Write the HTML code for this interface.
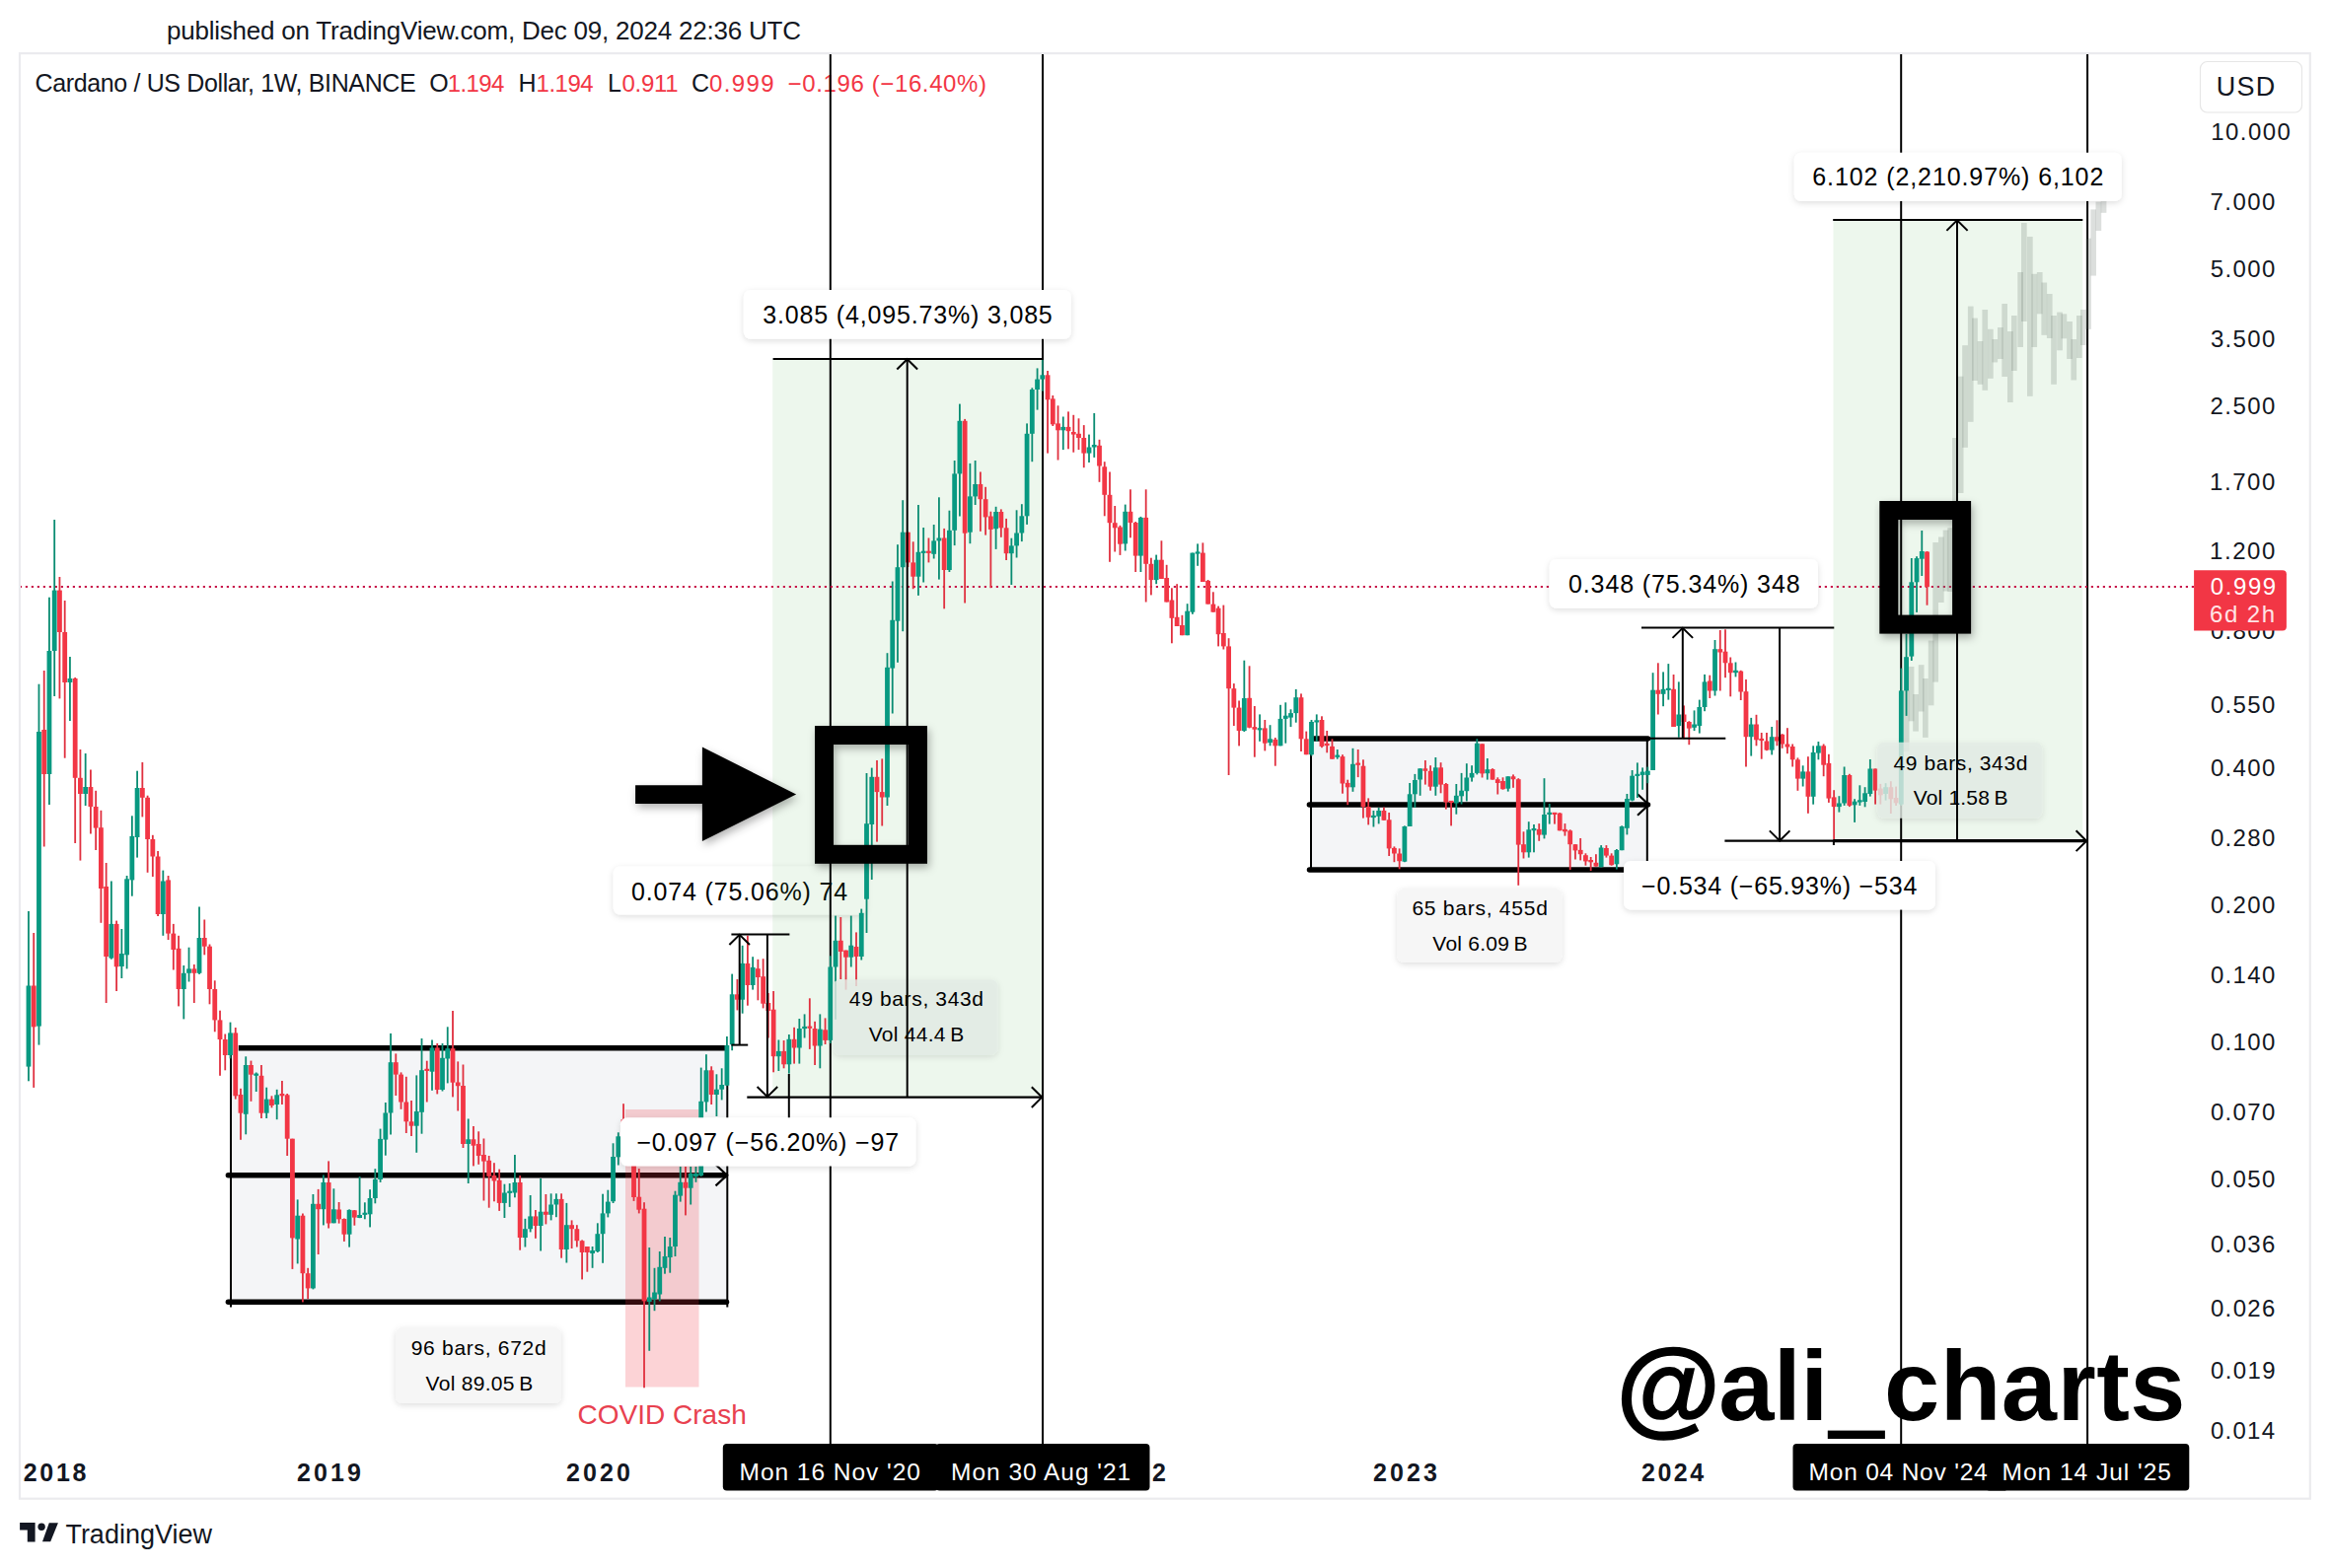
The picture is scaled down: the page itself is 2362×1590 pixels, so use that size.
<!DOCTYPE html>
<html><head><meta charset="utf-8"><title>ADA chart</title><style>
html,body{margin:0;padding:0;background:#ffffff;}
body{width:2362px;height:1590px;overflow:hidden;}
svg{display:block;}
text{font-family:"Liberation Sans",sans-serif;white-space:pre;}
</style></head><body>
<svg width="2362" height="1590" viewBox="0 0 2362 1590">
<defs>
<filter id="sh" x="-20%" y="-30%" width="140%" height="170%"><feDropShadow dx="0" dy="2" stdDeviation="3" flood-color="#000" flood-opacity="0.13"/></filter>
<filter id="shb" x="-20%" y="-20%" width="150%" height="150%"><feDropShadow dx="2" dy="4" stdDeviation="4" flood-color="#000" flood-opacity="0.30"/></filter>
<clipPath id="pane"><rect x="21" y="55" width="2320" height="1464"/></clipPath>
</defs>
<rect x="0" y="0" width="2362" height="1590" fill="#ffffff"/>
<text x="169.0" y="40.2" font-size="26" letter-spacing="-0.22" fill="#131722">published on TradingView.com, Dec 09, 2024 22:36 UTC</text>
<rect x="20.0" y="54.1" width="2321.8" height="1465.6" fill="none" stroke="#ebebee" stroke-width="2.2"/>
<g clip-path="url(#pane)">
<text x="35.5" y="93.4" font-size="25" letter-spacing="-0.36" fill="#131722">Cardano / US Dollar, 1W, BINANCE</text>
<text x="435.3" y="93.4" font-size="25" fill="#131722">O</text>
<text x="453.7" y="93.4" font-size="24" letter-spacing="-0.60" fill="#F23645">1.194</text>
<text x="525.6" y="93.4" font-size="25" fill="#131722">H</text>
<text x="543.5" y="93.4" font-size="24" letter-spacing="-0.47" fill="#F23645">1.194</text>
<text x="616.0" y="93.4" font-size="25" fill="#131722">L</text>
<text x="630.5" y="93.4" font-size="24" letter-spacing="-0.30" fill="#F23645">0.911</text>
<text x="701.1" y="93.4" font-size="25" fill="#131722">C</text>
<text x="719.1" y="93.4" font-size="24" letter-spacing="1.35" fill="#F23645">0.999</text>
<text x="798.6" y="93.4" font-size="24" letter-spacing="0.62" fill="#F23645">−0.196 (−16.40%)</text>
<rect x="234" y="1062.7" width="503.3" height="257.5" fill="#f4f5f7"/>
<rect x="1329" y="749" width="341" height="133" fill="#f4f5f7"/>
<rect x="621.7" y="878.4" width="256.3" height="49.2" rx="7" fill="#ffffff" filter="url(#sh)"/>
<text x="640.0" y="912.5" font-size="25" letter-spacing="0.84" fill="#000000">0.074 (75.06%) 74</text>
<rect x="783.2" y="363.9" width="273.8" height="748.7" fill="rgba(76,175,80,0.10)"/>
<rect x="1858.5" y="223.1" width="252.8" height="629.6" fill="rgba(76,175,80,0.10)"/>
<line x1="234" y1="1062.7" x2="234" y2="1325.4" stroke="#000" stroke-width="2" stroke-linecap="butt"/>
<line x1="737.3" y1="1062.7" x2="737.3" y2="1325.4" stroke="#000" stroke-width="2" stroke-linecap="butt"/>
<line x1="241.8" y1="1062.7" x2="735.5" y2="1062.7" stroke="#000" stroke-width="5.5" stroke-linecap="butt"/>
<line x1="231.4" y1="1191.7" x2="735.5" y2="1191.7" stroke="#000" stroke-width="5.5" stroke-linecap="round"/>
<polyline points="725.5,1181.0 737.0,1191.7 725.5,1202.4" fill="none" stroke="#000" stroke-width="2.2" stroke-linejoin="miter"/>
<line x1="231.4" y1="1320.2" x2="736.5" y2="1320.2" stroke="#000" stroke-width="5.5" stroke-linecap="round"/>
<line x1="1329" y1="749" x2="1329" y2="882.7" stroke="#000" stroke-width="2" stroke-linecap="butt"/>
<line x1="1669.8" y1="749" x2="1669.8" y2="882" stroke="#000" stroke-width="2" stroke-linecap="butt"/>
<line x1="1331.9" y1="749" x2="1670.5" y2="749" stroke="#000" stroke-width="5.5" stroke-linecap="round"/>
<line x1="1327.4" y1="816" x2="1670.5" y2="816" stroke="#000" stroke-width="5.5" stroke-linecap="round"/>
<polyline points="1660,805.3 1671.5,816 1660,826.7" fill="none" stroke="#000" stroke-width="2.2" stroke-linejoin="miter"/>
<line x1="1327.5" y1="881.9" x2="1670" y2="881.9" stroke="#000" stroke-width="5.5" stroke-linecap="round"/>
<line x1="841.8" y1="54" x2="841.8" y2="1464" stroke="#000" stroke-width="2" stroke-linecap="butt"/>
<line x1="1057.0" y1="54" x2="1057.0" y2="1464" stroke="#000" stroke-width="2" stroke-linecap="butt"/>
<line x1="1927.2" y1="54" x2="1927.2" y2="1464" stroke="#000" stroke-width="2" stroke-linecap="butt"/>
<line x1="2116.1" y1="54" x2="2116.1" y2="1464" stroke="#000" stroke-width="2" stroke-linecap="butt"/>
<rect x="634" y="1125" width="74.5" height="281.5" fill="rgba(242,54,69,0.22)"/>
<line x1="19.8" y1="595.0" x2="2224" y2="595.0" stroke="#c8164a" stroke-width="2.2" stroke-dasharray="2.2 3.8"/>
<g fill="rgba(110,122,112,0.24)"><rect x="1929.8" y="700.0" width="5.7" height="62.0"/><rect x="1934.7" y="676.0" width="5.7" height="55.3"/><rect x="1939.2" y="704.0" width="5.7" height="37.6"/><rect x="1944.8" y="674.2" width="5.7" height="47.3"/><rect x="1949.0" y="688.0" width="5.7" height="59.9"/><rect x="1954.8" y="649.6" width="5.7" height="65.7"/><rect x="1959.3" y="550.0" width="5.7" height="141.6"/><rect x="1965.0" y="544.5" width="5.7" height="66.5"/><rect x="1969.7" y="537.6" width="5.7" height="61.9"/><rect x="1974.3" y="535.3" width="5.7" height="64.7"/><rect x="1979.1" y="444.0" width="5.7" height="116.0"/><rect x="1984.8" y="381.7" width="5.7" height="118.3"/><rect x="1989.2" y="350.2" width="5.7" height="103.6"/><rect x="1994.9" y="310.6" width="5.7" height="117.2"/><rect x="1999.1" y="322.6" width="5.7" height="63.4"/><rect x="2004.6" y="346.0" width="5.7" height="43.8"/><rect x="2009.4" y="314.0" width="5.7" height="81.8"/><rect x="2015.0" y="333.8" width="5.7" height="50.0"/><rect x="2019.4" y="344.0" width="5.7" height="23.4"/><rect x="2025.0" y="332.0" width="5.7" height="32.0"/><rect x="2029.3" y="308.0" width="5.7" height="74.0"/><rect x="2035.0" y="336.0" width="5.7" height="72.0"/><rect x="2039.0" y="320.0" width="5.7" height="56.0"/><rect x="2045.3" y="276.0" width="5.7" height="76.0"/><rect x="2049.0" y="226.0" width="5.7" height="100.0"/><rect x="2055.0" y="240.0" width="5.7" height="161.8"/><rect x="2059.4" y="277.8" width="5.7" height="74.2"/><rect x="2064.9" y="276.0" width="5.7" height="42.3"/><rect x="2069.4" y="286.5" width="5.7" height="53.3"/><rect x="2074.9" y="298.0" width="5.7" height="45.0"/><rect x="2079.2" y="320.0" width="5.7" height="69.8"/><rect x="2085.2" y="316.6" width="5.7" height="38.7"/><rect x="2089.5" y="318.3" width="5.7" height="25.0"/><rect x="2095.2" y="326.0" width="5.7" height="38.0"/><rect x="2099.4" y="344.0" width="5.7" height="41.5"/><rect x="2105.0" y="320.0" width="5.7" height="43.0"/><rect x="2109.0" y="314.0" width="5.7" height="36.0"/><rect x="2114.2" y="241.7" width="5.7" height="92.1"/><rect x="2119.3" y="212.4" width="5.7" height="67.2"/><rect x="2124.5" y="204.6" width="5.7" height="29.4"/><rect x="2129.7" y="196.0" width="5.7" height="19.8"/></g>
<g fill="#0a8c72"><rect x="28.08" y="924.0" width="1.8" height="172.3"/><rect x="38.57" y="693.7" width="1.8" height="365.9"/><rect x="49.06" y="605.7" width="1.8" height="210.3"/><rect x="54.30" y="527.0" width="1.8" height="179.0"/><rect x="70.03" y="666.0" width="1.8" height="65.0"/><rect x="85.76" y="764.0" width="1.8" height="53.0"/><rect x="111.98" y="893.5" width="1.8" height="79.2"/><rect x="122.47" y="942.0" width="1.8" height="50.0"/><rect x="127.72" y="888.0" width="1.8" height="94.4"/><rect x="132.96" y="827.3" width="1.8" height="81.4"/><rect x="138.20" y="781.7" width="1.8" height="87.9"/><rect x="164.42" y="882.6" width="1.8" height="66.2"/><rect x="185.40" y="979.0" width="1.8" height="54.4"/><rect x="190.64" y="960.7" width="1.8" height="34.8"/><rect x="201.13" y="919.5" width="1.8" height="68.4"/><rect x="232.60" y="1036.6" width="1.8" height="36.8"/><rect x="248.33" y="1071.3" width="1.8" height="79.0"/><rect x="258.82" y="1087.5" width="1.8" height="19.5"/><rect x="269.30" y="1102.7" width="1.8" height="31.3"/><rect x="279.79" y="1104.8" width="1.8" height="30.4"/><rect x="300.77" y="1216.4" width="1.8" height="65.0"/><rect x="316.50" y="1211.0" width="1.8" height="96.4"/><rect x="326.99" y="1191.5" width="1.8" height="50.9"/><rect x="337.48" y="1205.3" width="1.8" height="35.0"/><rect x="353.21" y="1226.4" width="1.8" height="38.2"/><rect x="363.70" y="1193.0" width="1.8" height="42.2"/><rect x="368.94" y="1219.3" width="1.8" height="17.0"/><rect x="374.18" y="1206.2" width="1.8" height="38.2"/><rect x="379.43" y="1185.2" width="1.8" height="35.1"/><rect x="384.67" y="1144.6" width="1.8" height="54.3"/><rect x="389.92" y="1118.0" width="1.8" height="53.7"/><rect x="395.16" y="1047.9" width="1.8" height="102.6"/><rect x="421.38" y="1090.4" width="1.8" height="78.4"/><rect x="426.62" y="1053.0" width="1.8" height="96.7"/><rect x="437.11" y="1054.5" width="1.8" height="51.3"/><rect x="447.60" y="1058.0" width="1.8" height="48.5"/><rect x="452.84" y="1041.3" width="1.8" height="57.1"/><rect x="473.82" y="1134.5" width="1.8" height="65.5"/><rect x="510.53" y="1200.7" width="1.8" height="34.3"/><rect x="515.77" y="1200.0" width="1.8" height="23.9"/><rect x="521.02" y="1171.0" width="1.8" height="43.3"/><rect x="531.50" y="1235.8" width="1.8" height="28.7"/><rect x="536.75" y="1212.0" width="1.8" height="37.4"/><rect x="547.24" y="1195.0" width="1.8" height="73.5"/><rect x="557.72" y="1210.3" width="1.8" height="27.1"/><rect x="562.97" y="1210.3" width="1.8" height="23.9"/><rect x="573.46" y="1219.9" width="1.8" height="60.6"/><rect x="599.68" y="1264.0" width="1.8" height="21.8"/><rect x="604.92" y="1240.3" width="1.8" height="29.7"/><rect x="610.16" y="1210.7" width="1.8" height="70.1"/><rect x="615.41" y="1206.7" width="1.8" height="27.7"/><rect x="620.65" y="1159.3" width="1.8" height="60.7"/><rect x="625.90" y="1148.3" width="1.8" height="33.2"/><rect x="657.36" y="1265.0" width="1.8" height="104.8"/><rect x="662.60" y="1285.8" width="1.8" height="43.4"/><rect x="667.85" y="1269.0" width="1.8" height="50.4"/><rect x="673.09" y="1254.0" width="1.8" height="37.7"/><rect x="678.34" y="1255.0" width="1.8" height="35.7"/><rect x="683.58" y="1207.7" width="1.8" height="66.3"/><rect x="688.82" y="1183.0" width="1.8" height="35.6"/><rect x="699.31" y="1183.0" width="1.8" height="38.5"/><rect x="704.56" y="1183.0" width="1.8" height="15.8"/><rect x="709.80" y="1082.6" width="1.8" height="110.4"/><rect x="715.04" y="1069.2" width="1.8" height="58.3"/><rect x="725.53" y="1089.3" width="1.8" height="42.7"/><rect x="730.78" y="1083.3" width="1.8" height="32.1"/><rect x="736.02" y="1051.0" width="1.8" height="49.7"/><rect x="741.26" y="987.6" width="1.8" height="77.6"/><rect x="751.75" y="958.8" width="1.8" height="68.9"/><rect x="762.24" y="970.2" width="1.8" height="33.4"/><rect x="788.46" y="1054.5" width="1.8" height="31.5"/><rect x="798.95" y="1049.0" width="1.8" height="39.6"/><rect x="809.44" y="1033.0" width="1.8" height="45.6"/><rect x="814.68" y="1028.4" width="1.8" height="24.1"/><rect x="830.41" y="1028.4" width="1.8" height="54.9"/><rect x="840.90" y="969.3" width="1.8" height="88.7"/><rect x="846.14" y="928.6" width="1.8" height="105.2"/><rect x="861.88" y="928.6" width="1.8" height="51.9"/><rect x="872.36" y="921.6" width="1.8" height="51.9"/><rect x="877.61" y="784.0" width="1.8" height="162.0"/><rect x="882.85" y="778.6" width="1.8" height="113.4"/><rect x="898.58" y="662.2" width="1.8" height="154.8"/><rect x="903.83" y="589.5" width="1.8" height="134.0"/><rect x="909.07" y="552.2" width="1.8" height="119.6"/><rect x="914.32" y="507.2" width="1.8" height="133.0"/><rect x="930.05" y="512.0" width="1.8" height="91.9"/><rect x="935.29" y="535.0" width="1.8" height="55.5"/><rect x="945.78" y="532.0" width="1.8" height="34.5"/><rect x="951.02" y="504.3" width="1.8" height="83.3"/><rect x="961.51" y="517.7" width="1.8" height="62.3"/><rect x="966.76" y="467.0" width="1.8" height="86.1"/><rect x="972.00" y="409.6" width="1.8" height="113.9"/><rect x="982.49" y="469.9" width="1.8" height="81.3"/><rect x="987.73" y="467.0" width="1.8" height="45.0"/><rect x="1008.71" y="513.8" width="1.8" height="43.1"/><rect x="1024.44" y="545.7" width="1.8" height="47.3"/><rect x="1029.68" y="517.3" width="1.8" height="48.2"/><rect x="1034.93" y="511.2" width="1.8" height="37.9"/><rect x="1040.17" y="429.4" width="1.8" height="102.5"/><rect x="1045.42" y="393.3" width="1.8" height="74.9"/><rect x="1050.66" y="373.4" width="1.8" height="42.2"/><rect x="1055.90" y="365.0" width="1.8" height="31.7"/><rect x="1076.88" y="422.5" width="1.8" height="33.6"/><rect x="1103.10" y="440.6" width="1.8" height="28.4"/><rect x="1108.34" y="419.0" width="1.8" height="44.9"/><rect x="1139.81" y="511.6" width="1.8" height="46.9"/><rect x="1155.54" y="523.9" width="1.8" height="56.1"/><rect x="1171.27" y="562.6" width="1.8" height="29.6"/><rect x="1202.74" y="612.2" width="1.8" height="32.0"/><rect x="1207.98" y="560.6" width="1.8" height="62.2"/><rect x="1213.22" y="551.4" width="1.8" height="22.4"/><rect x="1260.42" y="669.7" width="1.8" height="72.3"/><rect x="1276.15" y="724.4" width="1.8" height="27.4"/><rect x="1286.64" y="735.2" width="1.8" height="21.1"/><rect x="1297.13" y="714.8" width="1.8" height="41.5"/><rect x="1302.37" y="712.3" width="1.8" height="41.4"/><rect x="1307.62" y="719.3" width="1.8" height="17.8"/><rect x="1312.86" y="698.9" width="1.8" height="33.8"/><rect x="1328.59" y="730.0" width="1.8" height="36.5"/><rect x="1333.84" y="724.4" width="1.8" height="27.4"/><rect x="1354.81" y="760.0" width="1.8" height="9.7"/><rect x="1370.54" y="758.8" width="1.8" height="44.0"/><rect x="1391.52" y="822.0" width="1.8" height="16.5"/><rect x="1396.76" y="819.0" width="1.8" height="16.4"/><rect x="1422.98" y="837.4" width="1.8" height="36.8"/><rect x="1428.23" y="794.0" width="1.8" height="44.0"/><rect x="1433.47" y="784.9" width="1.8" height="34.1"/><rect x="1438.72" y="779.3" width="1.8" height="27.5"/><rect x="1454.45" y="768.0" width="1.8" height="38.8"/><rect x="1475.42" y="795.0" width="1.8" height="30.7"/><rect x="1480.67" y="783.9" width="1.8" height="31.6"/><rect x="1485.91" y="774.2" width="1.8" height="38.2"/><rect x="1491.16" y="776.2" width="1.8" height="16.4"/><rect x="1496.40" y="749.2" width="1.8" height="36.2"/><rect x="1506.89" y="769.0" width="1.8" height="21.6"/><rect x="1527.86" y="787.3" width="1.8" height="15.3"/><rect x="1548.84" y="833.2" width="1.8" height="36.4"/><rect x="1554.08" y="836.0" width="1.8" height="28.3"/><rect x="1564.57" y="789.2" width="1.8" height="61.2"/><rect x="1569.82" y="815.0" width="1.8" height="20.6"/><rect x="1622.26" y="857.1" width="1.8" height="22.5"/><rect x="1637.99" y="861.0" width="1.8" height="20.5"/><rect x="1643.23" y="837.3" width="1.8" height="24.9"/><rect x="1648.48" y="805.0" width="1.8" height="41.4"/><rect x="1653.72" y="781.0" width="1.8" height="31.4"/><rect x="1658.96" y="773.4" width="1.8" height="35.6"/><rect x="1664.21" y="778.4" width="1.8" height="22.4"/><rect x="1669.45" y="777.6" width="1.8" height="16.6"/><rect x="1674.70" y="682.2" width="1.8" height="98.8"/><rect x="1685.18" y="681.4" width="1.8" height="34.8"/><rect x="1690.43" y="673.1" width="1.8" height="36.5"/><rect x="1700.92" y="691.4" width="1.8" height="56.3"/><rect x="1716.65" y="720.4" width="1.8" height="20.7"/><rect x="1721.89" y="709.6" width="1.8" height="34.0"/><rect x="1727.14" y="683.9" width="1.8" height="37.3"/><rect x="1737.62" y="649.0" width="1.8" height="56.5"/><rect x="1758.60" y="671.5" width="1.8" height="14.9"/><rect x="1774.33" y="727.9" width="1.8" height="38.7"/><rect x="1795.31" y="737.0" width="1.8" height="28.4"/><rect x="1826.77" y="776.3" width="1.8" height="21.2"/><rect x="1837.26" y="756.3" width="1.8" height="59.4"/><rect x="1842.50" y="752.0" width="1.8" height="18.3"/><rect x="1863.48" y="807.2" width="1.8" height="16.4"/><rect x="1868.72" y="777.5" width="1.8" height="39.4"/><rect x="1879.21" y="810.2" width="1.8" height="23.7"/><rect x="1884.46" y="796.3" width="1.8" height="20.6"/><rect x="1889.70" y="798.2" width="1.8" height="20.1"/><rect x="1894.94" y="770.0" width="1.8" height="37.6"/><rect x="1910.68" y="794.2" width="1.8" height="17.4"/><rect x="1926.41" y="677.6" width="1.8" height="139.4"/><rect x="1931.65" y="642.8" width="1.8" height="83.1"/><rect x="1936.90" y="566.0" width="1.8" height="104.0"/><rect x="1942.14" y="564.2" width="1.8" height="56.7"/><rect x="1947.38" y="538.0" width="1.8" height="46.0"/></g>
<g fill="#e0303f"><rect x="33.32" y="946.0" width="1.8" height="156.9"/><rect x="43.81" y="680.0" width="1.8" height="178.5"/><rect x="59.54" y="585.0" width="1.8" height="123.4"/><rect x="64.79" y="609.0" width="1.8" height="159.7"/><rect x="75.28" y="687.0" width="1.8" height="168.0"/><rect x="80.52" y="760.0" width="1.8" height="112.6"/><rect x="91.01" y="780.5" width="1.8" height="65.0"/><rect x="96.25" y="801.8" width="1.8" height="60.2"/><rect x="101.50" y="821.8" width="1.8" height="114.0"/><rect x="106.74" y="875.0" width="1.8" height="142.0"/><rect x="117.23" y="933.6" width="1.8" height="71.4"/><rect x="143.45" y="773.0" width="1.8" height="55.4"/><rect x="148.69" y="806.7" width="1.8" height="78.1"/><rect x="153.94" y="846.8" width="1.8" height="42.2"/><rect x="159.18" y="863.0" width="1.8" height="66.0"/><rect x="169.67" y="888.0" width="1.8" height="65.0"/><rect x="174.91" y="936.9" width="1.8" height="46.6"/><rect x="180.16" y="948.8" width="1.8" height="71.6"/><rect x="195.89" y="978.0" width="1.8" height="39.0"/><rect x="206.38" y="932.5" width="1.8" height="35.8"/><rect x="211.62" y="957.5" width="1.8" height="60.8"/><rect x="216.86" y="994.3" width="1.8" height="52.0"/><rect x="222.11" y="1024.7" width="1.8" height="66.1"/><rect x="227.35" y="1048.5" width="1.8" height="36.8"/><rect x="237.84" y="1042.0" width="1.8" height="72.6"/><rect x="243.08" y="1103.8" width="1.8" height="52.0"/><rect x="253.57" y="1075.6" width="1.8" height="41.2"/><rect x="264.06" y="1080.0" width="1.8" height="54.0"/><rect x="274.55" y="1111.3" width="1.8" height="12.0"/><rect x="285.04" y="1096.0" width="1.8" height="24.0"/><rect x="290.28" y="1109.0" width="1.8" height="63.0"/><rect x="295.52" y="1154.7" width="1.8" height="132.2"/><rect x="306.01" y="1230.5" width="1.8" height="89.9"/><rect x="311.26" y="1285.8" width="1.8" height="31.4"/><rect x="321.74" y="1205.9" width="1.8" height="66.1"/><rect x="332.23" y="1177.4" width="1.8" height="68.1"/><rect x="342.72" y="1219.0" width="1.8" height="21.6"/><rect x="347.96" y="1235.5" width="1.8" height="23.4"/><rect x="358.45" y="1227.0" width="1.8" height="15.7"/><rect x="400.40" y="1068.4" width="1.8" height="42.6"/><rect x="405.65" y="1087.4" width="1.8" height="37.4"/><rect x="410.89" y="1091.8" width="1.8" height="57.2"/><rect x="416.14" y="1116.0" width="1.8" height="36.0"/><rect x="431.87" y="1075.7" width="1.8" height="41.8"/><rect x="442.36" y="1058.0" width="1.8" height="51.4"/><rect x="458.09" y="1025.0" width="1.8" height="87.4"/><rect x="463.33" y="1076.4" width="1.8" height="50.1"/><rect x="468.58" y="1079.5" width="1.8" height="84.5"/><rect x="479.06" y="1142.0" width="1.8" height="40.4"/><rect x="484.31" y="1147.3" width="1.8" height="33.5"/><rect x="489.55" y="1154.5" width="1.8" height="63.0"/><rect x="494.80" y="1172.0" width="1.8" height="52.7"/><rect x="500.04" y="1179.2" width="1.8" height="39.1"/><rect x="505.28" y="1185.6" width="1.8" height="42.3"/><rect x="526.26" y="1192.0" width="1.8" height="75.7"/><rect x="541.99" y="1227.0" width="1.8" height="28.8"/><rect x="552.48" y="1211.0" width="1.8" height="30.4"/><rect x="568.21" y="1210.3" width="1.8" height="65.4"/><rect x="578.70" y="1237.4" width="1.8" height="28.6"/><rect x="583.94" y="1242.2" width="1.8" height="22.3"/><rect x="589.19" y="1257.4" width="1.8" height="40.0"/><rect x="594.43" y="1264.0" width="1.8" height="25.7"/><rect x="631.14" y="1119.2" width="1.8" height="45.8"/><rect x="636.38" y="1150.0" width="1.8" height="30.0"/><rect x="641.63" y="1170.0" width="1.8" height="47.9"/><rect x="646.87" y="1185.0" width="1.8" height="45.4"/><rect x="652.12" y="1219.2" width="1.8" height="188.1"/><rect x="694.07" y="1183.0" width="1.8" height="49.4"/><rect x="720.29" y="1081.3" width="1.8" height="38.7"/><rect x="746.51" y="993.0" width="1.8" height="31.4"/><rect x="757.00" y="948.7" width="1.8" height="71.0"/><rect x="767.48" y="972.8" width="1.8" height="41.5"/><rect x="772.73" y="972.2" width="1.8" height="50.2"/><rect x="777.97" y="1007.0" width="1.8" height="45.5"/><rect x="783.22" y="1005.0" width="1.8" height="82.3"/><rect x="793.70" y="1055.0" width="1.8" height="28.3"/><rect x="804.19" y="1041.8" width="1.8" height="36.8"/><rect x="819.92" y="1012.3" width="1.8" height="51.6"/><rect x="825.17" y="1035.8" width="1.8" height="44.2"/><rect x="835.66" y="1032.4" width="1.8" height="26.6"/><rect x="851.39" y="930.0" width="1.8" height="63.0"/><rect x="856.63" y="963.6" width="1.8" height="40.0"/><rect x="867.12" y="945.4" width="1.8" height="54.6"/><rect x="888.10" y="771.0" width="1.8" height="82.6"/><rect x="893.34" y="769.4" width="1.8" height="68.1"/><rect x="919.56" y="539.7" width="1.8" height="35.3"/><rect x="924.80" y="549.3" width="1.8" height="47.9"/><rect x="940.54" y="545.5" width="1.8" height="24.9"/><rect x="956.27" y="535.9" width="1.8" height="81.4"/><rect x="977.24" y="424.9" width="1.8" height="186.6"/><rect x="992.98" y="478.5" width="1.8" height="60.3"/><rect x="998.22" y="493.8" width="1.8" height="48.8"/><rect x="1003.46" y="518.7" width="1.8" height="77.5"/><rect x="1013.95" y="516.4" width="1.8" height="28.4"/><rect x="1019.20" y="525.9" width="1.8" height="42.1"/><rect x="1061.15" y="376.0" width="1.8" height="83.6"/><rect x="1066.39" y="401.0" width="1.8" height="31.0"/><rect x="1071.64" y="411.3" width="1.8" height="55.2"/><rect x="1082.12" y="417.4" width="1.8" height="37.9"/><rect x="1087.37" y="420.8" width="1.8" height="37.9"/><rect x="1092.61" y="424.3" width="1.8" height="31.8"/><rect x="1097.86" y="431.1" width="1.8" height="43.1"/><rect x="1113.59" y="445.8" width="1.8" height="43.0"/><rect x="1118.83" y="468.2" width="1.8" height="55.1"/><rect x="1124.08" y="478.5" width="1.8" height="91.3"/><rect x="1129.32" y="513.0" width="1.8" height="46.5"/><rect x="1134.56" y="532.8" width="1.8" height="30.1"/><rect x="1145.05" y="496.3" width="1.8" height="49.0"/><rect x="1150.30" y="529.0" width="1.8" height="51.0"/><rect x="1160.78" y="496.3" width="1.8" height="114.2"/><rect x="1166.03" y="565.7" width="1.8" height="37.7"/><rect x="1176.52" y="548.3" width="1.8" height="38.7"/><rect x="1181.76" y="572.8" width="1.8" height="37.7"/><rect x="1187.00" y="596.3" width="1.8" height="56.0"/><rect x="1192.25" y="592.2" width="1.8" height="42.8"/><rect x="1197.49" y="623.8" width="1.8" height="20.4"/><rect x="1218.47" y="550.4" width="1.8" height="39.6"/><rect x="1223.71" y="588.0" width="1.8" height="24.6"/><rect x="1228.96" y="600.3" width="1.8" height="20.4"/><rect x="1234.20" y="614.6" width="1.8" height="40.8"/><rect x="1239.44" y="613.6" width="1.8" height="44.9"/><rect x="1244.69" y="647.2" width="1.8" height="138.8"/><rect x="1249.93" y="693.1" width="1.8" height="42.9"/><rect x="1255.18" y="710.5" width="1.8" height="45.9"/><rect x="1265.66" y="675.3" width="1.8" height="63.1"/><rect x="1270.91" y="716.0" width="1.8" height="51.7"/><rect x="1281.40" y="730.0" width="1.8" height="31.4"/><rect x="1291.88" y="748.0" width="1.8" height="28.7"/><rect x="1318.10" y="703.4" width="1.8" height="58.6"/><rect x="1323.35" y="741.6" width="1.8" height="23.6"/><rect x="1339.08" y="726.3" width="1.8" height="31.9"/><rect x="1344.32" y="741.0" width="1.8" height="22.3"/><rect x="1349.57" y="749.3" width="1.8" height="20.4"/><rect x="1360.06" y="765.2" width="1.8" height="39.5"/><rect x="1365.30" y="790.7" width="1.8" height="25.5"/><rect x="1375.79" y="760.0" width="1.8" height="28.1"/><rect x="1381.03" y="770.3" width="1.8" height="59.3"/><rect x="1386.28" y="809.4" width="1.8" height="27.0"/><rect x="1402.01" y="818.6" width="1.8" height="13.2"/><rect x="1407.25" y="824.0" width="1.8" height="44.0"/><rect x="1412.50" y="858.4" width="1.8" height="15.8"/><rect x="1417.74" y="860.4" width="1.8" height="20.9"/><rect x="1443.96" y="771.0" width="1.8" height="24.6"/><rect x="1449.20" y="776.2" width="1.8" height="25.5"/><rect x="1459.69" y="773.2" width="1.8" height="31.1"/><rect x="1464.94" y="794.0" width="1.8" height="26.6"/><rect x="1470.18" y="812.0" width="1.8" height="25.4"/><rect x="1501.64" y="754.3" width="1.8" height="34.2"/><rect x="1512.13" y="779.2" width="1.8" height="11.4"/><rect x="1517.38" y="788.3" width="1.8" height="17.2"/><rect x="1522.62" y="788.3" width="1.8" height="12.4"/><rect x="1533.11" y="785.4" width="1.8" height="13.4"/><rect x="1538.35" y="789.2" width="1.8" height="108.6"/><rect x="1543.60" y="843.3" width="1.8" height="27.2"/><rect x="1559.33" y="835.1" width="1.8" height="17.7"/><rect x="1575.06" y="824.1" width="1.8" height="11.5"/><rect x="1580.30" y="824.1" width="1.8" height="18.2"/><rect x="1585.55" y="835.1" width="1.8" height="12.5"/><rect x="1590.79" y="841.3" width="1.8" height="40.7"/><rect x="1596.04" y="856.2" width="1.8" height="15.3"/><rect x="1601.28" y="850.0" width="1.8" height="22.4"/><rect x="1606.52" y="865.3" width="1.8" height="12.4"/><rect x="1611.77" y="869.0" width="1.8" height="14.0"/><rect x="1617.01" y="866.2" width="1.8" height="12.4"/><rect x="1627.50" y="857.1" width="1.8" height="12.5"/><rect x="1632.74" y="865.3" width="1.8" height="12.4"/><rect x="1679.94" y="672.3" width="1.8" height="52.2"/><rect x="1695.67" y="684.0" width="1.8" height="53.0"/><rect x="1706.16" y="715.4" width="1.8" height="34.0"/><rect x="1711.40" y="731.2" width="1.8" height="24.0"/><rect x="1732.38" y="684.7" width="1.8" height="23.3"/><rect x="1742.87" y="639.0" width="1.8" height="61.5"/><rect x="1748.11" y="638.3" width="1.8" height="48.9"/><rect x="1753.36" y="666.5" width="1.8" height="39.8"/><rect x="1763.84" y="679.8" width="1.8" height="30.2"/><rect x="1769.09" y="689.0" width="1.8" height="88.5"/><rect x="1779.58" y="724.8" width="1.8" height="31.5"/><rect x="1784.82" y="743.0" width="1.8" height="26.7"/><rect x="1790.06" y="743.0" width="1.8" height="18.2"/><rect x="1800.55" y="730.3" width="1.8" height="26.0"/><rect x="1805.80" y="744.2" width="1.8" height="14.6"/><rect x="1811.04" y="738.2" width="1.8" height="26.0"/><rect x="1816.28" y="754.5" width="1.8" height="23.0"/><rect x="1821.53" y="768.4" width="1.8" height="33.4"/><rect x="1832.02" y="767.2" width="1.8" height="57.6"/><rect x="1847.75" y="754.5" width="1.8" height="32.7"/><rect x="1852.99" y="764.8" width="1.8" height="49.1"/><rect x="1858.24" y="801.2" width="1.8" height="53.3"/><rect x="1873.97" y="784.8" width="1.8" height="33.3"/><rect x="1900.19" y="779.5" width="1.8" height="36.1"/><rect x="1905.43" y="794.9" width="1.8" height="20.7"/><rect x="1915.92" y="792.2" width="1.8" height="32.8"/><rect x="1921.16" y="797.6" width="1.8" height="19.4"/><rect x="1952.63" y="559.0" width="1.8" height="54.7"/></g>
<g fill="#089981"><rect x="26.58" y="999.5" width="4.8" height="82.1"/><rect x="37.07" y="742.0" width="4.8" height="298.6"/><rect x="47.56" y="660.0" width="4.8" height="125.0"/><rect x="52.80" y="598.6" width="4.8" height="61.4"/><rect x="68.53" y="688.0" width="4.8" height="4.0"/><rect x="84.26" y="798.0" width="4.8" height="7.0"/><rect x="110.48" y="936.9" width="4.8" height="34.7"/><rect x="120.97" y="967.0" width="4.8" height="13.0"/><rect x="126.22" y="891.3" width="4.8" height="77.0"/><rect x="131.46" y="847.9" width="4.8" height="44.5"/><rect x="136.70" y="799.0" width="4.8" height="50.0"/><rect x="162.92" y="893.5" width="4.8" height="33.5"/><rect x="183.90" y="986.8" width="4.8" height="16.2"/><rect x="189.14" y="982.4" width="4.8" height="4.4"/><rect x="199.63" y="951.0" width="4.8" height="35.8"/><rect x="231.10" y="1047.4" width="4.8" height="22.6"/><rect x="246.83" y="1080.0" width="4.8" height="49.8"/><rect x="257.32" y="1088.6" width="4.8" height="2.2"/><rect x="267.80" y="1114.6" width="4.8" height="14.1"/><rect x="278.29" y="1110.3" width="4.8" height="9.7"/><rect x="299.27" y="1232.7" width="4.8" height="23.8"/><rect x="315.00" y="1220.8" width="4.8" height="85.6"/><rect x="325.49" y="1199.0" width="4.8" height="27.2"/><rect x="335.98" y="1226.3" width="4.8" height="14.0"/><rect x="351.71" y="1226.9" width="4.8" height="24.8"/><rect x="362.20" y="1232.0" width="4.8" height="3.0"/><rect x="367.44" y="1229.7" width="4.8" height="2.2"/><rect x="372.68" y="1215.0" width="4.8" height="16.3"/><rect x="377.93" y="1195.9" width="4.8" height="19.1"/><rect x="383.17" y="1154.9" width="4.8" height="41.1"/><rect x="388.42" y="1128.5" width="4.8" height="27.1"/><rect x="393.66" y="1077.2" width="4.8" height="51.3"/><rect x="419.88" y="1127.0" width="4.8" height="14.7"/><rect x="425.12" y="1085.2" width="4.8" height="42.6"/><rect x="435.61" y="1062.5" width="4.8" height="24.2"/><rect x="446.10" y="1072.8" width="4.8" height="32.2"/><rect x="451.34" y="1063.2" width="4.8" height="10.3"/><rect x="472.32" y="1155.3" width="4.8" height="4.7"/><rect x="509.03" y="1209.5" width="4.8" height="10.4"/><rect x="514.27" y="1207.7" width="4.8" height="2.2"/><rect x="519.52" y="1199.0" width="4.8" height="10.5"/><rect x="530.00" y="1246.2" width="4.8" height="8.8"/><rect x="535.25" y="1233.4" width="4.8" height="12.8"/><rect x="545.74" y="1228.7" width="4.8" height="14.3"/><rect x="556.22" y="1221.5" width="4.8" height="10.3"/><rect x="561.47" y="1215.9" width="4.8" height="5.6"/><rect x="571.96" y="1242.2" width="4.8" height="24.8"/><rect x="598.18" y="1268.0" width="4.8" height="3.0"/><rect x="603.42" y="1251.2" width="4.8" height="17.8"/><rect x="608.66" y="1230.4" width="4.8" height="20.8"/><rect x="613.91" y="1218.6" width="4.8" height="11.8"/><rect x="619.15" y="1173.0" width="4.8" height="45.2"/><rect x="624.40" y="1152.3" width="4.8" height="21.0"/><rect x="655.86" y="1315.5" width="4.8" height="4.5"/><rect x="661.10" y="1310.5" width="4.8" height="6.9"/><rect x="666.35" y="1284.8" width="4.8" height="27.7"/><rect x="671.59" y="1274.0" width="4.8" height="11.8"/><rect x="676.84" y="1264.0" width="4.8" height="11.0"/><rect x="682.08" y="1211.7" width="4.8" height="52.3"/><rect x="687.32" y="1198.8" width="4.8" height="13.8"/><rect x="697.81" y="1190.0" width="4.8" height="14.7"/><rect x="703.06" y="1190.0" width="4.8" height="3.0"/><rect x="708.30" y="1116.8" width="4.8" height="75.2"/><rect x="713.54" y="1085.3" width="4.8" height="32.1"/><rect x="724.03" y="1104.7" width="4.8" height="5.3"/><rect x="729.28" y="1100.0" width="4.8" height="4.7"/><rect x="734.52" y="1059.9" width="4.8" height="40.8"/><rect x="739.76" y="1008.3" width="4.8" height="50.9"/><rect x="750.25" y="976.9" width="4.8" height="36.8"/><rect x="760.74" y="980.9" width="4.8" height="18.1"/><rect x="786.96" y="1065.9" width="4.8" height="5.3"/><rect x="797.45" y="1053.8" width="4.8" height="25.5"/><rect x="807.94" y="1043.0" width="4.8" height="19.5"/><rect x="813.18" y="1040.9" width="4.8" height="2.2"/><rect x="828.91" y="1043.6" width="4.8" height="16.9"/><rect x="839.40" y="980.5" width="4.8" height="74.4"/><rect x="844.64" y="953.8" width="4.8" height="26.7"/><rect x="860.38" y="958.7" width="4.8" height="12.0"/><rect x="870.86" y="925.8" width="4.8" height="44.2"/><rect x="876.11" y="835.2" width="4.8" height="76.5"/><rect x="881.35" y="787.8" width="4.8" height="48.2"/><rect x="897.08" y="676.8" width="4.8" height="131.7"/><rect x="902.33" y="628.8" width="4.8" height="48.8"/><rect x="907.57" y="575.2" width="4.8" height="54.5"/><rect x="912.82" y="539.7" width="4.8" height="35.5"/><rect x="928.55" y="559.8" width="4.8" height="24.9"/><rect x="933.79" y="558.7" width="4.8" height="2.2"/><rect x="944.28" y="548.4" width="4.8" height="13.4"/><rect x="949.52" y="545.5" width="4.8" height="2.9"/><rect x="960.01" y="537.8" width="4.8" height="40.2"/><rect x="965.26" y="480.4" width="4.8" height="57.4"/><rect x="970.50" y="426.8" width="4.8" height="53.6"/><rect x="980.99" y="503.4" width="4.8" height="36.3"/><rect x="986.23" y="491.0" width="4.8" height="12.4"/><rect x="1007.21" y="519.0" width="4.8" height="17.2"/><rect x="1022.94" y="553.4" width="4.8" height="7.8"/><rect x="1028.18" y="540.5" width="4.8" height="12.9"/><rect x="1033.43" y="523.3" width="4.8" height="17.2"/><rect x="1038.67" y="439.8" width="4.8" height="83.5"/><rect x="1043.92" y="395.0" width="4.8" height="44.8"/><rect x="1049.16" y="384.6" width="4.8" height="10.4"/><rect x="1054.40" y="380.3" width="4.8" height="4.3"/><rect x="1075.38" y="432.9" width="4.8" height="3.4"/><rect x="1101.60" y="453.5" width="4.8" height="6.1"/><rect x="1106.84" y="451.0" width="4.8" height="2.5"/><rect x="1138.31" y="518.8" width="4.8" height="32.6"/><rect x="1154.04" y="524.9" width="4.8" height="38.7"/><rect x="1169.77" y="567.7" width="4.8" height="20.4"/><rect x="1201.24" y="619.7" width="4.8" height="24.5"/><rect x="1206.48" y="560.6" width="4.8" height="60.1"/><rect x="1211.72" y="559.4" width="4.8" height="2.2"/><rect x="1258.92" y="708.0" width="4.8" height="33.0"/><rect x="1274.65" y="738.2" width="4.8" height="2.2"/><rect x="1285.14" y="749.3" width="4.8" height="3.8"/><rect x="1295.63" y="728.9" width="4.8" height="27.4"/><rect x="1300.87" y="725.7" width="4.8" height="3.2"/><rect x="1306.12" y="723.1" width="4.8" height="4.5"/><rect x="1311.36" y="707.2" width="4.8" height="15.9"/><rect x="1327.09" y="732.0" width="4.8" height="33.2"/><rect x="1332.34" y="730.3" width="4.8" height="2.2"/><rect x="1353.31" y="765.6" width="4.8" height="2.2"/><rect x="1369.04" y="774.8" width="4.8" height="23.5"/><rect x="1390.02" y="826.9" width="4.8" height="2.2"/><rect x="1395.26" y="822.0" width="4.8" height="5.8"/><rect x="1421.48" y="838.0" width="4.8" height="35.7"/><rect x="1426.73" y="805.3" width="4.8" height="32.7"/><rect x="1431.97" y="791.0" width="4.8" height="14.3"/><rect x="1437.22" y="779.3" width="4.8" height="11.2"/><rect x="1452.95" y="778.3" width="4.8" height="19.4"/><rect x="1473.92" y="806.8" width="4.8" height="7.7"/><rect x="1479.17" y="801.7" width="4.8" height="5.6"/><rect x="1484.41" y="788.5" width="4.8" height="13.7"/><rect x="1489.66" y="783.9" width="4.8" height="4.6"/><rect x="1494.90" y="753.8" width="4.8" height="30.1"/><rect x="1505.39" y="780.2" width="4.8" height="4.0"/><rect x="1526.36" y="787.3" width="4.8" height="12.4"/><rect x="1547.34" y="841.3" width="4.8" height="23.0"/><rect x="1552.58" y="840.0" width="4.8" height="2.2"/><rect x="1563.07" y="826.0" width="4.8" height="20.6"/><rect x="1568.32" y="823.8" width="4.8" height="2.2"/><rect x="1620.76" y="859.5" width="4.8" height="19.6"/><rect x="1636.49" y="862.0" width="4.8" height="14.3"/><rect x="1641.73" y="838.0" width="4.8" height="24.2"/><rect x="1646.98" y="810.0" width="4.8" height="29.8"/><rect x="1652.22" y="786.7" width="4.8" height="24.9"/><rect x="1657.46" y="784.8" width="4.8" height="2.2"/><rect x="1662.71" y="782.6" width="4.8" height="3.3"/><rect x="1667.95" y="781.7" width="4.8" height="4.2"/><rect x="1673.20" y="699.7" width="4.8" height="81.3"/><rect x="1683.68" y="698.8" width="4.8" height="5.0"/><rect x="1688.93" y="697.8" width="4.8" height="2.2"/><rect x="1699.42" y="724.5" width="4.8" height="11.6"/><rect x="1715.15" y="734.5" width="4.8" height="3.3"/><rect x="1720.39" y="717.0" width="4.8" height="19.1"/><rect x="1725.64" y="691.4" width="4.8" height="25.6"/><rect x="1736.12" y="658.2" width="4.8" height="42.3"/><rect x="1757.10" y="679.8" width="4.8" height="2.4"/><rect x="1772.83" y="734.5" width="4.8" height="12.7"/><rect x="1793.81" y="747.2" width="4.8" height="13.4"/><rect x="1825.27" y="782.4" width="4.8" height="7.2"/><rect x="1835.76" y="763.0" width="4.8" height="44.8"/><rect x="1841.00" y="756.3" width="4.8" height="7.3"/><rect x="1861.98" y="814.5" width="4.8" height="3.6"/><rect x="1867.22" y="786.0" width="4.8" height="28.5"/><rect x="1877.71" y="812.7" width="4.8" height="3.6"/><rect x="1882.96" y="811.3" width="4.8" height="2.2"/><rect x="1888.20" y="804.3" width="4.8" height="8.7"/><rect x="1893.44" y="779.5" width="4.8" height="25.5"/><rect x="1909.18" y="798.2" width="4.8" height="6.8"/><rect x="1924.91" y="700.4" width="4.8" height="115.2"/><rect x="1930.15" y="666.2" width="4.8" height="34.2"/><rect x="1935.40" y="590.3" width="4.8" height="75.3"/><rect x="1940.64" y="566.1" width="4.8" height="24.2"/><rect x="1945.88" y="559.0" width="4.8" height="7.7"/></g>
<g fill="#F23645"><rect x="31.82" y="999.5" width="4.8" height="41.8"/><rect x="42.31" y="740.0" width="4.8" height="45.0"/><rect x="58.04" y="598.6" width="4.8" height="42.4"/><rect x="63.29" y="641.0" width="4.8" height="51.0"/><rect x="73.78" y="688.0" width="4.8" height="100.8"/><rect x="79.02" y="788.8" width="4.8" height="16.2"/><rect x="89.51" y="798.0" width="4.8" height="20.0"/><rect x="94.75" y="818.0" width="4.8" height="21.6"/><rect x="100.00" y="839.2" width="4.8" height="61.8"/><rect x="105.24" y="899.0" width="4.8" height="71.0"/><rect x="115.73" y="936.9" width="4.8" height="43.4"/><rect x="141.95" y="799.0" width="4.8" height="9.8"/><rect x="147.19" y="808.8" width="4.8" height="42.2"/><rect x="152.44" y="851.0" width="4.8" height="17.5"/><rect x="157.68" y="868.5" width="4.8" height="58.5"/><rect x="168.17" y="892.4" width="4.8" height="54.2"/><rect x="173.41" y="946.6" width="4.8" height="16.4"/><rect x="178.66" y="961.8" width="4.8" height="41.2"/><rect x="194.39" y="982.4" width="4.8" height="4.4"/><rect x="204.88" y="951.0" width="4.8" height="8.7"/><rect x="210.12" y="959.7" width="4.8" height="43.3"/><rect x="215.36" y="1003.0" width="4.8" height="31.4"/><rect x="220.61" y="1034.4" width="4.8" height="19.6"/><rect x="225.85" y="1054.0" width="4.8" height="16.0"/><rect x="236.34" y="1047.4" width="4.8" height="63.9"/><rect x="241.58" y="1110.0" width="4.8" height="18.7"/><rect x="252.07" y="1080.0" width="4.8" height="9.7"/><rect x="262.56" y="1090.8" width="4.8" height="37.9"/><rect x="273.05" y="1114.6" width="4.8" height="6.4"/><rect x="283.54" y="1109.0" width="4.8" height="2.3"/><rect x="288.78" y="1110.3" width="4.8" height="44.4"/><rect x="294.02" y="1154.7" width="4.8" height="100.7"/><rect x="304.51" y="1232.7" width="4.8" height="58.5"/><rect x="309.76" y="1291.2" width="4.8" height="15.2"/><rect x="320.24" y="1220.8" width="4.8" height="5.4"/><rect x="330.73" y="1199.0" width="4.8" height="41.5"/><rect x="341.22" y="1226.5" width="4.8" height="9.8"/><rect x="346.46" y="1236.0" width="4.8" height="15.7"/><rect x="356.95" y="1227.3" width="4.8" height="7.3"/><rect x="398.90" y="1077.2" width="4.8" height="12.4"/><rect x="404.15" y="1089.6" width="4.8" height="27.9"/><rect x="409.39" y="1117.5" width="4.8" height="19.8"/><rect x="414.64" y="1137.3" width="4.8" height="4.4"/><rect x="430.37" y="1083.8" width="4.8" height="2.2"/><rect x="440.86" y="1062.5" width="4.8" height="42.5"/><rect x="456.59" y="1063.2" width="4.8" height="34.5"/><rect x="461.83" y="1097.5" width="4.8" height="3.7"/><rect x="467.08" y="1101.0" width="4.8" height="59.0"/><rect x="477.56" y="1155.3" width="4.8" height="6.4"/><rect x="482.81" y="1160.0" width="4.8" height="12.0"/><rect x="488.05" y="1171.0" width="4.8" height="6.6"/><rect x="493.30" y="1176.8" width="4.8" height="16.0"/><rect x="498.54" y="1192.0" width="4.8" height="5.5"/><rect x="503.78" y="1196.8" width="4.8" height="23.1"/><rect x="524.76" y="1199.0" width="4.8" height="56.0"/><rect x="540.49" y="1233.4" width="4.8" height="9.6"/><rect x="550.98" y="1228.7" width="4.8" height="3.1"/><rect x="566.71" y="1215.9" width="4.8" height="51.1"/><rect x="577.20" y="1242.2" width="4.8" height="4.0"/><rect x="582.44" y="1246.2" width="4.8" height="12.0"/><rect x="587.69" y="1258.2" width="4.8" height="11.8"/><rect x="592.93" y="1264.0" width="4.8" height="6.0"/><rect x="629.64" y="1135.0" width="4.8" height="25.0"/><rect x="634.88" y="1160.0" width="4.8" height="15.0"/><rect x="640.13" y="1175.0" width="4.8" height="39.0"/><rect x="645.37" y="1213.7" width="4.8" height="13.0"/><rect x="650.62" y="1225.7" width="4.8" height="93.7"/><rect x="692.57" y="1198.8" width="4.8" height="5.9"/><rect x="718.79" y="1085.3" width="4.8" height="24.7"/><rect x="745.01" y="1008.3" width="4.8" height="5.4"/><rect x="755.50" y="976.9" width="4.8" height="22.1"/><rect x="765.98" y="982.2" width="4.8" height="8.8"/><rect x="771.23" y="990.2" width="4.8" height="27.5"/><rect x="776.47" y="1017.0" width="4.8" height="8.0"/><rect x="781.72" y="1023.7" width="4.8" height="47.5"/><rect x="792.20" y="1065.9" width="4.8" height="13.4"/><rect x="802.69" y="1053.8" width="4.8" height="8.7"/><rect x="818.42" y="1040.6" width="4.8" height="2.2"/><rect x="823.67" y="1043.0" width="4.8" height="17.5"/><rect x="834.16" y="1044.3" width="4.8" height="10.6"/><rect x="849.89" y="953.8" width="4.8" height="11.2"/><rect x="855.13" y="963.6" width="4.8" height="7.1"/><rect x="865.62" y="960.0" width="4.8" height="10.0"/><rect x="886.60" y="787.8" width="4.8" height="15.3"/><rect x="891.84" y="803.1" width="4.8" height="5.4"/><rect x="918.06" y="539.7" width="4.8" height="30.7"/><rect x="923.30" y="570.4" width="4.8" height="14.3"/><rect x="939.04" y="558.7" width="4.8" height="2.2"/><rect x="954.77" y="545.5" width="4.8" height="32.5"/><rect x="975.74" y="426.8" width="4.8" height="113.9"/><rect x="991.48" y="491.0" width="4.8" height="15.2"/><rect x="996.72" y="506.2" width="4.8" height="18.2"/><rect x="1001.96" y="523.5" width="4.8" height="13.4"/><rect x="1012.45" y="519.0" width="4.8" height="16.3"/><rect x="1017.70" y="535.3" width="4.8" height="25.9"/><rect x="1059.65" y="380.3" width="4.8" height="25.0"/><rect x="1064.89" y="404.4" width="4.8" height="25.9"/><rect x="1070.14" y="429.4" width="4.8" height="6.9"/><rect x="1080.62" y="432.9" width="4.8" height="4.3"/><rect x="1085.87" y="438.0" width="4.8" height="2.6"/><rect x="1091.11" y="439.8" width="4.8" height="4.2"/><rect x="1096.36" y="444.0" width="4.8" height="15.6"/><rect x="1112.09" y="451.8" width="4.8" height="20.7"/><rect x="1117.33" y="473.3" width="4.8" height="28.5"/><rect x="1122.58" y="501.8" width="4.8" height="28.4"/><rect x="1127.82" y="530.2" width="4.8" height="5.1"/><rect x="1133.06" y="534.5" width="4.8" height="17.2"/><rect x="1143.55" y="518.8" width="4.8" height="11.2"/><rect x="1148.80" y="530.0" width="4.8" height="33.6"/><rect x="1159.28" y="524.9" width="4.8" height="46.9"/><rect x="1164.53" y="571.8" width="4.8" height="16.3"/><rect x="1175.02" y="567.7" width="4.8" height="19.3"/><rect x="1180.26" y="586.0" width="4.8" height="24.5"/><rect x="1185.50" y="608.5" width="4.8" height="18.3"/><rect x="1190.75" y="625.8" width="4.8" height="9.2"/><rect x="1195.99" y="634.0" width="4.8" height="10.2"/><rect x="1216.97" y="560.6" width="4.8" height="29.4"/><rect x="1222.21" y="589.0" width="4.8" height="23.6"/><rect x="1227.46" y="612.6" width="4.8" height="8.1"/><rect x="1232.70" y="616.7" width="4.8" height="26.5"/><rect x="1237.94" y="642.0" width="4.8" height="13.4"/><rect x="1243.19" y="655.4" width="4.8" height="42.8"/><rect x="1248.43" y="698.2" width="4.8" height="19.4"/><rect x="1253.68" y="717.6" width="4.8" height="23.4"/><rect x="1264.16" y="707.8" width="4.8" height="30.0"/><rect x="1269.41" y="737.1" width="4.8" height="2.6"/><rect x="1279.90" y="738.4" width="4.8" height="15.3"/><rect x="1290.38" y="749.9" width="4.8" height="6.4"/><rect x="1316.60" y="707.2" width="4.8" height="42.1"/><rect x="1321.85" y="749.3" width="4.8" height="15.9"/><rect x="1337.58" y="730.0" width="4.8" height="26.9"/><rect x="1342.82" y="753.9" width="4.8" height="2.2"/><rect x="1348.07" y="756.9" width="4.8" height="12.8"/><rect x="1358.56" y="767.1" width="4.8" height="27.4"/><rect x="1363.80" y="793.9" width="4.8" height="4.4"/><rect x="1374.29" y="773.6" width="4.8" height="2.2"/><rect x="1379.53" y="776.7" width="4.8" height="41.4"/><rect x="1384.78" y="818.0" width="4.8" height="10.8"/><rect x="1400.51" y="822.0" width="4.8" height="9.8"/><rect x="1405.75" y="831.3" width="4.8" height="29.1"/><rect x="1411.00" y="859.9" width="4.8" height="5.6"/><rect x="1416.24" y="865.5" width="4.8" height="7.7"/><rect x="1442.46" y="779.3" width="4.8" height="2.5"/><rect x="1447.70" y="781.8" width="4.8" height="15.9"/><rect x="1458.19" y="778.3" width="4.8" height="17.3"/><rect x="1463.44" y="795.0" width="4.8" height="18.5"/><rect x="1468.68" y="811.9" width="4.8" height="2.2"/><rect x="1500.14" y="754.3" width="4.8" height="30.1"/><rect x="1510.63" y="780.0" width="4.8" height="10.6"/><rect x="1515.88" y="790.2" width="4.8" height="3.8"/><rect x="1521.12" y="792.0" width="4.8" height="8.2"/><rect x="1531.61" y="787.3" width="4.8" height="2.9"/><rect x="1536.85" y="790.2" width="4.8" height="66.4"/><rect x="1542.10" y="856.2" width="4.8" height="8.1"/><rect x="1557.83" y="840.9" width="4.8" height="5.7"/><rect x="1573.56" y="823.8" width="4.8" height="2.2"/><rect x="1578.80" y="824.6" width="4.8" height="17.7"/><rect x="1584.05" y="840.9" width="4.8" height="2.4"/><rect x="1589.29" y="842.3" width="4.8" height="13.9"/><rect x="1594.54" y="856.2" width="4.8" height="6.2"/><rect x="1599.78" y="861.9" width="4.8" height="4.3"/><rect x="1605.02" y="867.2" width="4.8" height="6.2"/><rect x="1610.27" y="872.0" width="4.8" height="2.3"/><rect x="1615.51" y="874.8" width="4.8" height="3.8"/><rect x="1626.00" y="860.0" width="4.8" height="7.6"/><rect x="1631.24" y="867.6" width="4.8" height="9.6"/><rect x="1678.44" y="699.7" width="4.8" height="4.1"/><rect x="1694.17" y="698.8" width="4.8" height="38.2"/><rect x="1704.66" y="724.5" width="4.8" height="7.5"/><rect x="1709.90" y="732.0" width="4.8" height="6.6"/><rect x="1730.88" y="690.5" width="4.8" height="10.0"/><rect x="1741.37" y="658.2" width="4.8" height="3.3"/><rect x="1746.61" y="660.7" width="4.8" height="11.6"/><rect x="1751.86" y="672.3" width="4.8" height="9.9"/><rect x="1762.34" y="680.6" width="4.8" height="20.9"/><rect x="1767.59" y="701.2" width="4.8" height="46.0"/><rect x="1778.08" y="734.5" width="4.8" height="15.8"/><rect x="1783.32" y="748.9" width="4.8" height="2.2"/><rect x="1788.56" y="751.5" width="4.8" height="9.1"/><rect x="1799.05" y="747.2" width="4.8" height="4.3"/><rect x="1804.30" y="744.8" width="4.8" height="9.7"/><rect x="1809.54" y="754.5" width="4.8" height="3.0"/><rect x="1814.78" y="757.0" width="4.8" height="13.3"/><rect x="1820.03" y="770.3" width="4.8" height="19.3"/><rect x="1830.52" y="782.4" width="4.8" height="25.4"/><rect x="1846.25" y="756.3" width="4.8" height="19.4"/><rect x="1851.49" y="773.9" width="4.8" height="35.7"/><rect x="1856.74" y="808.4" width="4.8" height="9.7"/><rect x="1872.47" y="786.0" width="4.8" height="30.9"/><rect x="1898.69" y="779.5" width="4.8" height="22.1"/><rect x="1903.93" y="799.6" width="4.8" height="6.7"/><rect x="1914.42" y="798.2" width="4.8" height="12.1"/><rect x="1919.66" y="809.0" width="4.8" height="5.3"/><rect x="1951.13" y="559.5" width="4.8" height="35.7"/></g>
<line x1="783.6" y1="363.9" x2="1057" y2="363.9" stroke="#000" stroke-width="2" stroke-linecap="butt"/>
<polyline points="909.3,374.5 919.7,364.2 930.1,374.5" fill="none" stroke="#000" stroke-width="2" stroke-linejoin="miter"/>
<line x1="757.3" y1="1112.6" x2="1056.0" y2="1112.6" stroke="#000" stroke-width="2.2" stroke-linecap="butt"/>
<polyline points="1045.8,1102.2 1056.2,1112.6 1045.8,1123.0" fill="none" stroke="#000" stroke-width="2" stroke-linejoin="miter"/>
<line x1="741.4" y1="947.6" x2="800.4" y2="947.6" stroke="#000" stroke-width="2" stroke-linecap="butt"/>
<line x1="741.4" y1="1059.6" x2="758.2" y2="1059.6" stroke="#000" stroke-width="2" stroke-linecap="butt"/>
<line x1="749.7" y1="1059.6" x2="749.7" y2="948.2" stroke="#000" stroke-width="2" stroke-linecap="butt"/>
<polyline points="739.4,958.0 749.7,947.8 760.0,958.0" fill="none" stroke="#000" stroke-width="2" stroke-linejoin="miter"/>
<line x1="777.9" y1="947.6" x2="777.9" y2="1111.8" stroke="#000" stroke-width="2" stroke-linecap="butt"/>
<polyline points="767.6,1102.0 777.9,1112.2 788.2,1102.0" fill="none" stroke="#000" stroke-width="2" stroke-linejoin="miter"/>
<line x1="799.8" y1="1089" x2="799.8" y2="1135" stroke="#000" stroke-width="2" stroke-linecap="butt"/>
<line x1="1858.2" y1="223.1" x2="2111.3" y2="223.1" stroke="#000" stroke-width="2" stroke-linecap="butt"/>
<polyline points="1973.4,233.9 1984.0,223.4 1994.6,233.9" fill="none" stroke="#000" stroke-width="2" stroke-linejoin="miter"/>
<line x1="1748.4" y1="852.7" x2="2115.0" y2="852.7" stroke="#000" stroke-width="2.2" stroke-linecap="butt"/>
<line x1="1858.5" y1="852.7" x2="2115.0" y2="852.7" stroke="#000" stroke-width="3.2" stroke-linecap="butt"/>
<polyline points="2104.6,842.3 2115.2,852.7 2104.6,863.1" fill="none" stroke="#000" stroke-width="2" stroke-linejoin="miter"/>
<line x1="1664.0" y1="636.6" x2="1859.3" y2="636.6" stroke="#000" stroke-width="2" stroke-linecap="butt"/>
<line x1="1664.0" y1="748.8" x2="1749.3" y2="748.8" stroke="#000" stroke-width="2" stroke-linecap="butt"/>
<line x1="1705.8" y1="748.8" x2="1705.8" y2="637.2" stroke="#000" stroke-width="2" stroke-linecap="butt"/>
<polyline points="1695.5,646.9 1705.8,636.8 1716.1,646.9" fill="none" stroke="#000" stroke-width="2" stroke-linejoin="miter"/>
<line x1="1804.1" y1="636.6" x2="1804.1" y2="852.0" stroke="#000" stroke-width="2" stroke-linecap="butt"/>
<polyline points="1793.8,842.4 1804.1,852.5 1814.4,842.4" fill="none" stroke="#000" stroke-width="2" stroke-linejoin="miter"/>
<line x1="1858.9" y1="852.0" x2="1858.9" y2="857.0" stroke="#000" stroke-width="2" stroke-linecap="butt"/>
<rect x="753.9" y="293.9" width="331.9" height="49.8" rx="7" fill="#ffffff" filter="url(#sh)"/>
<text x="773.3" y="328.2" font-size="25" letter-spacing="0.83" fill="#000000">3.085 (4,095.73%) 3,085</text>
<rect x="1818.8" y="154.8" width="332.0" height="49.2" rx="7" fill="#ffffff" filter="url(#sh)"/>
<text x="1837.3" y="188.0" font-size="25" letter-spacing="0.90" fill="#000000">6.102 (2,210.97%) 6,102</text>
<rect x="629.0" y="1133.3" width="299.5" height="49.2" rx="7" fill="#ffffff" filter="url(#sh)"/>
<text x="645.4" y="1166.8" font-size="25" letter-spacing="0.86" fill="#000000">−0.097 (−56.20%) −97</text>
<rect x="1570.8" y="567.0" width="272.2" height="49.7" rx="7" fill="#ffffff" filter="url(#sh)"/>
<text x="1590.0" y="601.3" font-size="25" letter-spacing="0.88" fill="#000000">0.348 (75.34%) 348</text>
<rect x="1646.0" y="873.0" width="316.0" height="49.4" rx="7" fill="#ffffff" filter="url(#sh)"/>
<text x="1664.1" y="907.0" font-size="25" letter-spacing="0.79" fill="#000000">−0.534 (−65.93%) −534</text>
<rect x="401.0" y="1346.0" width="168.0" height="77.0" rx="7" fill="#f6f6f6" filter="url(#sh)"/>
<text x="416.7" y="1374.0" font-size="21" letter-spacing="0.71" fill="#000000">96 bars, 672d</text>
<text x="431.5" y="1409.9" font-size="21" letter-spacing="0.30" fill="#000000">Vol 89.05 B</text>
<rect x="1416.5" y="901.0" width="166.9" height="75.0" rx="7" fill="#f6f6f6" filter="url(#sh)"/>
<text x="1431.4" y="927.6" font-size="21" letter-spacing="0.75" fill="#000000">65 bars, 455d</text>
<text x="1452.3" y="964.0" font-size="21" letter-spacing="0.24" fill="#000000">Vol 6.09 B</text>
<rect x="844.6" y="993.3" width="166.9" height="76.6" rx="7" fill="rgba(228,236,230,0.8)" filter="url(#sh)"/>
<text x="860.8" y="1020.4" font-size="21" letter-spacing="0.65" fill="#000000">49 bars, 343d</text>
<text x="880.7" y="1056.2" font-size="21" letter-spacing="0.28" fill="#000000">Vol 44.4 B</text>
<rect x="1902.9" y="752.7" width="167.4" height="77.0" rx="7" fill="rgba(228,236,230,0.8)" filter="url(#sh)"/>
<text x="1919.5" y="780.8" font-size="21" letter-spacing="0.62" fill="#000000">49 bars, 343d</text>
<text x="1939.7" y="816.4" font-size="21" letter-spacing="0.19" fill="#000000">Vol 1.58 B</text>
<line x1="919.7" y1="1112.6" x2="919.7" y2="364.5" stroke="#000" stroke-width="2" stroke-linecap="butt"/>
<line x1="1984.0" y1="852.7" x2="1984.0" y2="223.7" stroke="#000" stroke-width="2" stroke-linecap="butt"/>
<text x="585.6" y="1443.5" font-size="28" fill="#e8414f">COVID Crash</text>
<polygon points="644.1,796.2 711.9,796.2 711.9,757.6 807.1,805.4 711.9,853.1 711.9,815.1 644.1,815.1" fill="#000" filter="url(#shb)"/>
<rect x="835.5" y="745.5" width="95" height="120.8" fill="none" stroke="#000" stroke-width="19" filter="url(#shb)"/>
<rect x="1914.8" y="517.5" width="73.8" height="115.6" fill="none" stroke="#000" stroke-width="19" filter="url(#shb)"/>
<text x="1638.6" y="1442.8" font-size="108" font-weight="bold" fill="#000" stroke="#000" stroke-width="1.6">@</text>
<text x="1742.2" y="1439.8" font-size="101" font-weight="bold" letter-spacing="-0.55" fill="#000000">ali</text>
<rect x="1852.8" y="1450.6" width="58.1" height="8.4" fill="#000"/>
<text x="1910.1" y="1439.8" font-size="101" font-weight="bold" letter-spacing="0.44" fill="#000000">charts</text>
</g>
<text x="2241.2" y="141.8" font-size="24" letter-spacing="1.46" fill="#131722">10.000</text>
<text x="2240.6" y="213.3" font-size="24" letter-spacing="1.42" fill="#131722">7.000</text>
<text x="2240.8" y="280.7" font-size="24" letter-spacing="1.37" fill="#131722">5.000</text>
<text x="2240.9" y="352.2" font-size="24" letter-spacing="1.35" fill="#131722">3.500</text>
<text x="2240.6" y="419.7" font-size="24" letter-spacing="1.42" fill="#131722">2.500</text>
<text x="2240.0" y="496.9" font-size="24" letter-spacing="1.57" fill="#131722">1.700</text>
<text x="2240.0" y="566.8" font-size="24" letter-spacing="1.57" fill="#131722">1.200</text>
<text x="2240.9" y="648.0" font-size="24" letter-spacing="1.35" fill="#131722">0.800</text>
<text x="2240.9" y="723.1" font-size="24" letter-spacing="1.35" fill="#131722">0.550</text>
<text x="2240.9" y="786.9" font-size="24" letter-spacing="1.35" fill="#131722">0.400</text>
<text x="2240.9" y="858.4" font-size="24" letter-spacing="1.35" fill="#131722">0.280</text>
<text x="2240.9" y="925.9" font-size="24" letter-spacing="1.35" fill="#131722">0.200</text>
<text x="2240.9" y="997.4" font-size="24" letter-spacing="1.35" fill="#131722">0.140</text>
<text x="2240.9" y="1064.8" font-size="24" letter-spacing="1.35" fill="#131722">0.100</text>
<text x="2240.9" y="1136.3" font-size="24" letter-spacing="1.35" fill="#131722">0.070</text>
<text x="2240.9" y="1203.7" font-size="24" letter-spacing="1.35" fill="#131722">0.050</text>
<text x="2240.9" y="1269.6" font-size="24" letter-spacing="1.37" fill="#131722">0.036</text>
<text x="2240.9" y="1334.8" font-size="24" letter-spacing="1.37" fill="#131722">0.026</text>
<text x="2240.9" y="1397.7" font-size="24" letter-spacing="1.40" fill="#131722">0.019</text>
<text x="2240.9" y="1458.9" font-size="24" letter-spacing="1.27" fill="#131722">0.014</text>
<rect x="2230.5" y="62.5" width="103" height="51.5" rx="7" fill="#ffffff" stroke="#e6e6e6" stroke-width="1.2"/>
<text x="2246.8" y="96.6" font-size="27" letter-spacing="1.25" fill="#131722">USD</text>
<path d="M2224.1,578.2 H2313.9 Q2317.9,578.2 2317.9,582.2 V635.6 Q2317.9,639.6 2313.9,639.6 H2224.1 Z" fill="#F23645"/>
<text x="2240.8" y="603.1" font-size="24" letter-spacing="1.58" fill="#ffffff">0.999</text>
<text x="2240.1" y="630.7" font-size="24" letter-spacing="1.47" fill="#ffe4e6">6d 2h</text>
<text x="23.8" y="1502.2" font-size="25" font-weight="bold" letter-spacing="2.67" fill="#131722">2018</text>
<text x="301.1" y="1502.2" font-size="25" font-weight="bold" letter-spacing="3.07" fill="#131722">2019</text>
<text x="574.1" y="1502.2" font-size="25" font-weight="bold" letter-spacing="3.10" fill="#131722">2020</text>
<text x="1392.1" y="1502.2" font-size="25" font-weight="bold" letter-spacing="3.07" fill="#131722">2023</text>
<text x="1664.1" y="1502.2" font-size="25" font-weight="bold" letter-spacing="2.47" fill="#131722">2024</text>
<text x="1168.1" y="1502.2" font-size="25" font-weight="bold" fill="#131722">2</text>
<rect x="732.8" y="1464" width="218.5" height="47.5" rx="4" fill="#000"/>
<rect x="948.5" y="1464" width="217" height="47.5" rx="4" fill="#000"/>
<text x="749.5" y="1500.8" font-size="24.5" letter-spacing="0.97" fill="#ffffff">Mon 16 Nov &#x27;20</text>
<text x="964.0" y="1500.8" font-size="24.5" letter-spacing="0.98" fill="#ffffff">Mon 30 Aug &#x27;21</text>
<rect x="1817.5" y="1464" width="218" height="47.5" rx="4" fill="#000"/>
<rect x="2012.8" y="1464" width="206.5" height="47.5" rx="4" fill="#000"/>
<text x="1833.5" y="1500.8" font-size="24.5" letter-spacing="0.80" fill="#ffffff">Mon 04 Nov &#x27;24</text>
<text x="2029.6" y="1500.8" font-size="24.5" letter-spacing="0.98" fill="#ffffff">Mon 14 Jul &#x27;25</text>
<g fill="#131722"><path d="M20.1,1544.1 H35.6 V1563.4 H27.8 V1551.4 H20.1 Z"/><circle cx="42.1" cy="1548.3" r="3.7"/><path d="M49.8,1544.3 H58.9 L51.2,1563.3 H43.0 Z"/></g>
<text x="66.4" y="1564.9" font-size="27" fill="#131722">TradingView</text>
</svg></body></html>
